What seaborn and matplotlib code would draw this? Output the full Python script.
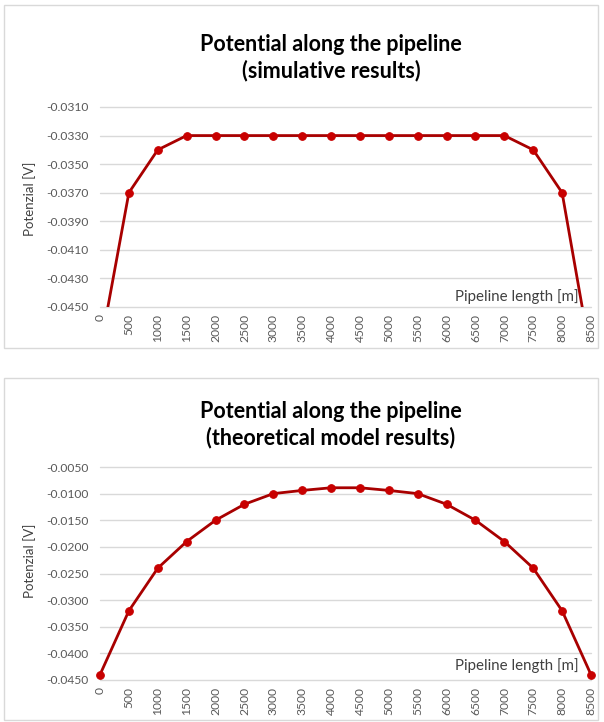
import numpy as np
import pandas as pd
import matplotlib
matplotlib.use("Agg")
import matplotlib.pyplot as plt
import seaborn as sns
from matplotlib.patches import Rectangle
from matplotlib.ticker import FormatStrFormatter

# pipeline positions [m]
length_m = [0, 500, 1000, 1500, 2000, 2500, 3000, 3500, 4000, 4500,
            5000, 5500, 6000, 6500, 7000, 7500, 8000, 8500]

# simulative results [V] (end points fall below the axis)
sim_potential = [-0.0480, -0.0370, -0.0340, -0.0330, -0.0330, -0.0330,
                 -0.0330, -0.0330, -0.0330, -0.0330, -0.0330, -0.0330,
                 -0.0330, -0.0330, -0.0330, -0.0340, -0.0370, -0.0485]

# theoretical model results [V]
theo_potential = [-0.0440, -0.0320, -0.0240, -0.0190, -0.0150, -0.0120,
                  -0.0100, -0.0094, -0.0089, -0.0089, -0.0094, -0.0100,
                  -0.0120, -0.0150, -0.0190, -0.0240, -0.0320, -0.0440]

sim_yticks = [-0.045, -0.043, -0.041, -0.039, -0.037, -0.035, -0.033, -0.031]
theo_yticks = [-0.045, -0.040, -0.035, -0.030, -0.025, -0.020, -0.015, -0.010, -0.005]

titles = ["Potential along the pipeline\n(simulative results)",
          "Potential along the pipeline\n(theoretical model results)"]

sns.set_style("white")
plt.rcParams['font.family'] = ['Lato', 'DejaVu Sans']

W, H = 604, 722
fig = plt.figure(figsize=(W / 100, H / 100), dpi=100)

line_col = "#a80000"
mark_col = "#c80000"
grid_col = "#d9d9d9"
text_col = "#595959"

# panel frames (pixel boxes: x0, y0, x1, y1)
for x0, y0, x1, y1 in [(4, 5, 598, 348), (4, 378, 598, 720)]:
    fig.patches.append(Rectangle((x0 / W, 1 - y1 / H), (x1 - x0) / W, (y1 - y0) / H,
                                 transform=fig.transFigure, fill=False,
                                 edgecolor=grid_col, linewidth=1.0))

panels = [
    dict(y=sim_potential, ticks=sim_yticks, box=(100, 107, 591, 307),
         title_y=58, ylab_y=0.54, xlab_y=0.05, clip=True),
    dict(y=theo_potential, ticks=theo_yticks, box=(100, 467, 591, 680),
         title_y=425, ylab_y=0.56, xlab_y=0.07, clip=False),
]

for p, title in zip(panels, titles):
    x0, y0, x1, y1 = p["box"]
    ax = fig.add_axes([x0 / W, 1 - y1 / H, (x1 - x0) / W, (y1 - y0) / H])
    df = pd.DataFrame({"length": length_m, "potential": p["y"]})
    sns.lineplot(data=df, x="length", y="potential", ax=ax, color=line_col,
                 linewidth=2.0, marker="o", markersize=5.5,
                 markerfacecolor=mark_col, markeredgecolor=mark_col,
                 clip_on=p["clip"], zorder=3)
    ax.set_xlim(0, 8500)
    ax.set_ylim(p["ticks"][0], p["ticks"][-1])
    ax.set_yticks(p["ticks"])
    ax.set_xticks(length_m)
    ax.yaxis.set_major_formatter(FormatStrFormatter("%.4f"))
    ax.set_xticklabels([str(v) for v in length_m], rotation=90)
    ax.tick_params(axis="both", length=0, labelsize=8.7, colors=text_col, pad=8)
    ax.tick_params(axis="x", pad=5)
    ax.grid(axis="y", color=grid_col, linewidth=1.0)
    for gl in ax.get_ygridlines():
        gl.set_clip_on(False)
    ax.set_axisbelow(True)
    for s in ax.spines.values():
        s.set_visible(False)
    ax.set_xlabel("")
    ax.set_ylabel("Potenzial [V]", fontsize=9.5, color="#404040")
    ax.yaxis.set_label_coords(-0.13, p["ylab_y"])
    ax.text(0.975, p["xlab_y"], "Pipeline length [m]", transform=ax.transAxes,
            ha="right", va="center", fontsize=10.8, color="#404040")
    fig.text(331 / W, 1 - p["title_y"] / H, title, ha="center", va="center",
             fontsize=15.5, fontweight="bold", color="#000000", linespacing=1.25)

fig.savefig("out.png", dpi=100)
